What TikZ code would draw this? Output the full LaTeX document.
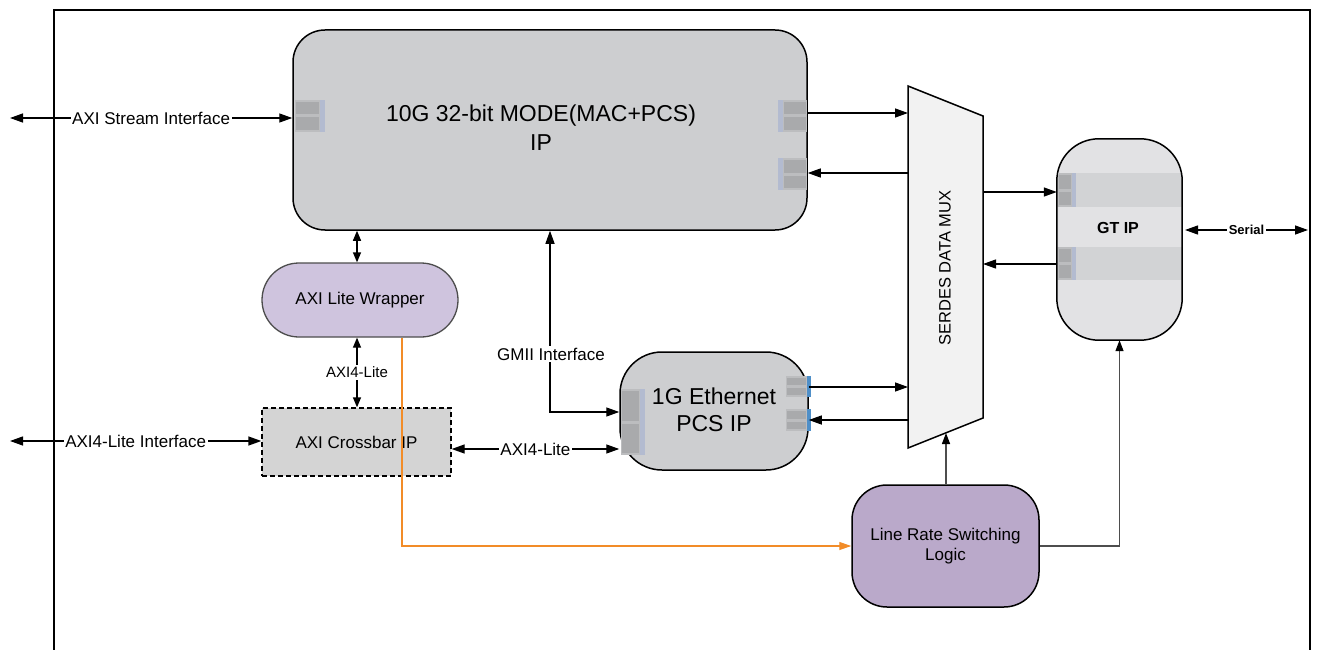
\documentclass[tikz,border=0pt]{standalone}
\usepackage{fontspec}
\setmainfont{Liberation Sans}
\usetikzlibrary{arrows.meta}
\definecolor{boxgray}{HTML}{CDCED0}
\definecolor{xbargray}{HTML}{D4D4D4}
\definecolor{gtgray}{HTML}{E2E2E4}
\definecolor{gtstrip}{HTML}{D2D3D5}
\definecolor{muxfill}{HTML}{F2F2F2}
\definecolor{wrapfill}{HTML}{CFC4DE}
\definecolor{lrsfill}{HTML}{BAA9CA}
\definecolor{portbg}{HTML}{BCBDBF}
\definecolor{portcell}{HTML}{A9AAAC}
\definecolor{portstrip}{HTML}{B3BBD0}
\definecolor{portblue}{HTML}{4F8FC8}
\definecolor{orangeline}{HTML}{F28C28}
\definecolor{darkline}{HTML}{4D4D4D}
\newcommand\portbox[6]{% cell x1, cell x2, y1, y2, strip x1, strip x2
  \fill[portbg] (#1,#3) rectangle (#2,#4);
  \fill[portcell] ({#1+1},{#3+2}) rectangle ({#2-1},{(#3+#4)/2-1.5});
  \fill[portcell] ({#1+1},{(#3+#4)/2+1.5}) rectangle ({#2-1},{#4-2});
  \fill[portstrip] (#5,#3) rectangle (#6,#4);
}
\begin{document}
\begin{tikzpicture}[x=1pt,y=-1pt,
  >={Triangle[length=13pt,width=9pt]},
  every node/.style={font=\fontsize{17}{20}\selectfont},
  blk10/.style={draw=black, line width=1.5pt, fill=boxgray},
  xbarst/.style={draw=black, line width=1.3pt, dash pattern=on 5pt off 3pt, fill=xbargray},
  wrapst/.style={draw=darkline, line width=1.3pt, fill=wrapfill},
  gtst/.style={fill=gtgray},
  lrsst/.style={draw=black, line width=1.5pt, fill=lrsfill},
  conn/.style={draw=black, line width=1.3pt},
  lab/.style={fill=white, inner sep=1.5pt},
  smalltip/.style={{Triangle[length=10pt,width=8pt]}-{Triangle[length=10pt,width=8pt]}}
]
\useasboundingbox (0,0) rectangle (1317,650);

% outer frame
\draw[line width=1.3pt] (54,650) -- (54,10) -- (1310,10) -- (1310,650);

% boxes
\node[blk10, minimum width=514pt, minimum height=200pt, rounded corners=32pt] (tenG) at (550,130) {};
\node[font=\fontsize{23}{29}\selectfont, align=center] (tenGt) at (541,128) {10G 32-bit MODE(MAC+PCS)\\IP};

\node[blk10, minimum width=188pt, minimum height=118pt, rounded corners=42pt] (oneG) at (714,411) {};
\node[font=\fontsize{23}{27}\selectfont, align=center] (oneGt) at (714,410) {1G Ethernet\\PCS IP};

\node[xbarst, minimum width=189pt, minimum height=68pt] (xbar) at (356.5,442) {AXI Crossbar IP};
\node[wrapst, minimum width=196pt, minimum height=74pt, rounded corners=37pt] (wrap) at (360,300) {AXI Lite Wrapper};

\node[gtst, minimum width=125pt, minimum height=201pt, rounded corners=42pt] (gt) at (1119.5,239.5) {};
\begin{scope}
  \clip[rounded corners=42pt] (gt.north west) rectangle (gt.south east);
  \fill[gtstrip] (1057,173) rectangle (1182,207);
  \fill[gtstrip] (1057,247) rectangle (1182,280);
\end{scope}
\draw[line width=1.5pt, rounded corners=42pt] (gt.north west) rectangle (gt.south east);
\node[font=\bfseries\fontsize{16}{19}\selectfont] (gtt) at (1118,228) {GT IP};

\node[lrsst, minimum width=187pt, minimum height=122pt, rounded corners=35pt, align=center] (lrs) at (945.5,546) {Line Rate Switching\\Logic};

% mux
\draw[line width=1.5pt, fill=muxfill] (908,86) -- (983,116) -- (983,418) -- (908,448) -- cycle;
\node[rotate=90, font=\fontsize{16.5}{20}\selectfont] (muxt) at (945,268) {SERDES DATA MUX};
\coordinate (mA) at (908,113);
\coordinate (mB) at (908,173);
\coordinate (mC) at (908,387);
\coordinate (mD) at (908,420);
\coordinate (mE) at (983,192);
\coordinate (mF) at (983,264);
\coordinate (mG) at (946,433);

% ports
\portbox{295}{320}{100}{132}{320}{325}
\portbox{783}{807}{100}{132}{778}{783}
\portbox{783}{807}{158}{190}{778}{783}
\portbox{621}{640}{389}{455}{640}{645}
\portbox{786}{807}{376}{397}{807}{811}
\portbox{786}{807}{409}{431}{807}{811}
\fill[portblue] (807,376) rectangle (811,397);
\fill[portblue] (807,409) rectangle (811,431);
\portbox{1058}{1072}{173}{207}{1072}{1076}
\portbox{1058}{1072}{247}{280}{1072}{1076}

% helper coordinates
\coordinate (asL) at (10,118);
\coordinate (alL) at (10,441);
\coordinate (ax) at (0,449);
\coordinate (wx) at (357,0);
\coordinate (gmx) at (550,412);
\coordinate (oA) at (402,0);
\coordinate (serR) at (1308,230);
\coordinate (serL) at (1185,230);

% connectors
\draw[conn,<->] (asL) -- (tenG.west |- asL) node[midway, lab] {AXI Stream Interface};
\draw[conn,<->] (alL) -- (xbar.west |- alL) node[midway, lab] {AXI4-Lite Interface};
\draw[conn,->] (tenG.east |- mA) -- (mA);
\draw[conn,->] (mB) -- (tenG.east |- mB);
\draw[conn,->] (oneG.east |- mC) -- (mC);
\draw[conn,->] (mD) -- (oneG.east |- mD);
\draw[conn,->] (mE) -- (gt.west |- mE);
\draw[conn,->] (gt.west |- mF) -- (mF);
\draw[conn,<->] (serL) -- (serR) node[midway, lab, font=\bfseries\fontsize{13}{15}\selectfont] {Serial};
\draw[conn,smalltip] (tenG.south -| wx) -- (wrap.north -| wx);
\draw[conn,smalltip] (wrap.south -| wx) -- (xbar.north -| wx) node[midway, lab, font=\fontsize{15}{18}\selectfont] {AXI4-Lite};
\draw[conn,<->] (xbar.east |- ax) -- (oneG.west |- ax) node[midway, lab] {AXI4-Lite};
\draw[conn,<->] (tenG.south -| gmx) |- (oneG.west |- gmx);
\node[lab] (gmlab) at (551,354) {GMII Interface};
\draw[draw=darkline, line width=1.3pt, -{Triangle[length=11pt,width=8pt,color=black]}] (lrs.north -| mG) -- (mG);
\draw[draw=darkline, line width=1.3pt, -{Triangle[length=11pt,width=8pt,color=black]}] (lrs.east) -| (gt.south);
\draw[draw=orangeline, line width=1.2pt, -{Triangle[length=12pt,width=8pt]}] (wrap.south -| oA) |- (lrs.west);
\end{tikzpicture}
\end{document}
